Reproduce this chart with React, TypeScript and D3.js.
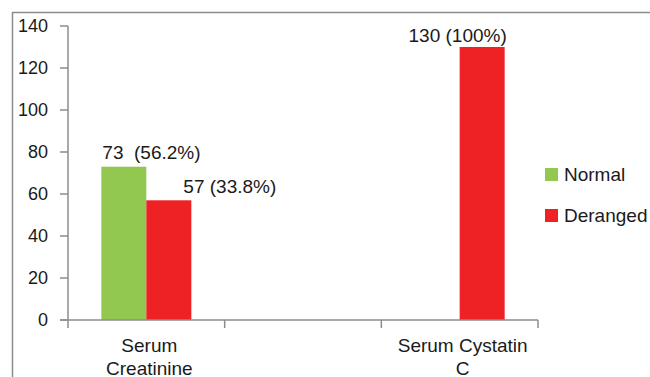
import React from "react";
import * as d3 from "d3";

const categories = ["Serum Creatinine", "", "Serum Cystatin C"];
const categoryLines = [["Serum", "Creatinine"], [], ["Serum Cystatin", "C"]];
const normalValues: (number | null)[] = [73, null, 0];
const derangedValues: (number | null)[] = [57, null, 130];
const normalLabels = ["73  (56.2%)", "", ""];
const derangedLabels = ["57 (33.8%)", "", "130 (100%)"];
const seriesNames = ["Normal", "Deranged"];
const seriesColors = ["#92C84F", "#EE2224"];
const yTicks = [0, 20, 40, 60, 80, 100, 120, 140];

export default function App() {
  const W = 650, H = 377;
  const left = 68, right = 538, top = 26, bottom = 320;
  const x = d3.scaleBand<string>().domain(categories.map((c, i) => String(i))).range([left, right]).paddingInner(0).paddingOuter(0);
  const y = d3.scaleLinear().domain([0, 140]).range([bottom, top]);
  const bw = x.bandwidth();
  const barW = 45;
  const font = "'Liberation Sans', Arial, sans-serif";
  const axisColor = "#8c8c8c";
  const textColor = "#1a1a1a";

  return (
    <svg width={W} height={H} style={{ position: "absolute", left: 0, top: 0 }} fontFamily={font}>
      <rect x={0} y={0} width={W} height={H} fill="#fff" />
      <path d={`M12.5,${H} V12.5 H${W}`} fill="none" stroke={axisColor} strokeWidth={1.5} />
      {/* y axis */}
      <line x1={left} x2={left} y1={top} y2={bottom} stroke={axisColor} strokeWidth={1.5} />
      {yTicks.map((t) => (
        <g key={t}>
          <line x1={left - 8} x2={left} y1={y(t)} y2={y(t)} stroke={axisColor} strokeWidth={1.5} />
          <text x={left - 20} y={y(t)} dy="0.35em" textAnchor="end" fontSize={18} fill={textColor}>{t}</text>
        </g>
      ))}
      {/* bars */}
      {categories.map((c, i) => {
        const x0 = (x(String(i)) as number) + (bw - 2 * barW) / 2;
        const n = normalValues[i];
        const d = derangedValues[i];
        return (
          <g key={i}>
            {n != null && n > 0 && (
              <rect x={x0} y={y(n)} width={barW} height={y(0) - y(n)} fill={seriesColors[0]} />
            )}
            {d != null && d > 0 && (
              <rect x={x0 + barW} y={y(d)} width={barW} height={y(0) - y(d)} fill={seriesColors[1]} />
            )}
          </g>
        );
      })}
      {/* data labels */}
      {categories.map((c, i) => {
        const x0 = (x(String(i)) as number) + (bw - 2 * barW) / 2;
        const n = normalValues[i];
        const d = derangedValues[i];
        return (
          <g key={"l" + i} fontSize={19} fill={textColor}>
            {n != null && normalLabels[i] && (
              <text x={x0 + 1} y={y(n) - 8} style={{ whiteSpace: "pre" }} xmlSpace="preserve">{normalLabels[i]}</text>
            )}
            {d != null && derangedLabels[i] && i === 0 && (
              <text x={x0 + barW + 37} y={y(d) - 7}>{derangedLabels[i]}</text>
            )}
            {d != null && derangedLabels[i] && i === 2 && (
              <text x={x0 + barW - 2} y={y(d) - 5} textAnchor="middle">{derangedLabels[i]}</text>
            )}
          </g>
        );
      })}
      {/* x axis */}
      <line x1={left - 8} x2={right} y1={bottom} y2={bottom} stroke={axisColor} strokeWidth={1.5} />
      {[...categories.map((c, i) => x(String(i)) as number), right].map((tx, i) => (
        <line key={i} x1={tx} x2={tx} y1={bottom} y2={bottom + 8} stroke={axisColor} strokeWidth={1.5} />
      ))}
      {categoryLines.map((lines, i) => (
        <text key={"c" + i} textAnchor="middle" fontSize={19} fill={textColor}>
          {lines.map((ln, j) => (
            <tspan key={j} x={(x(String(i)) as number) + bw / 2 + 3} y={352 + j * 23}>{ln}</tspan>
          ))}
        </text>
      ))}
      {/* legend */}
      {seriesNames.map((s, i) => (
        <g key={s} transform={`translate(545, ${168 + i * 41})`}>
          <rect x={0} y={0} width={13} height={13} fill={seriesColors[i]} />
          <text x={19} y={6.5} dy="0.35em" fontSize={19} fill={textColor}>{s}</text>
        </g>
      ))}
    </svg>
  );
}
